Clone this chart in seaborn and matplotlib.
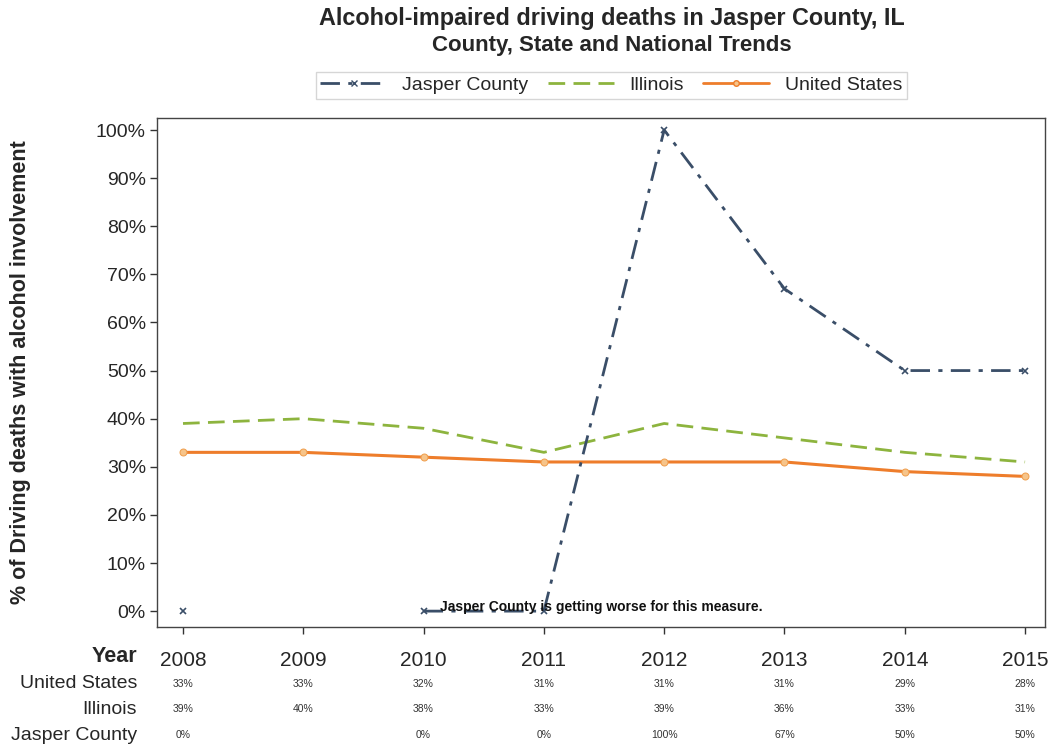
import numpy as np
import pandas as pd
import matplotlib
matplotlib.use("Agg")
import matplotlib.pyplot as plt
import seaborn as sns
from matplotlib.lines import Line2D
from matplotlib.ticker import FuncFormatter

sns.set_theme(style="white")
plt.rcParams["font.family"] = ["Liberation Sans", "DejaVu Sans"]

years = [2008, 2009, 2010, 2011, 2012, 2013, 2014, 2015]
us_pct = [33, 33, 32, 31, 31, 31, 29, 28]
il_pct = [39, 40, 38, 33, 39, 36, 33, 31]
jasper_pct = [0, np.nan, 0, 0, 100, 67, 50, 50]

series_names = ["Jasper County", "Illinois", "United States"]
colors = {"Jasper County": "#3a4e68", "Illinois": "#8db43e", "United States": "#ee7d2b"}
jc_dash = [7, 3, 1.5, 3]
il_dash = [6, 3]

fig = plt.figure(figsize=(10.56, 7.5), dpi=100)
ax = fig.add_axes([0.1487, 0.164, 0.8409, 0.6787])

# United States: solid line with circle markers
us_df = pd.DataFrame({"year": years, "pct": us_pct})
sns.lineplot(data=us_df, x="year", y="pct", ax=ax, color=colors["United States"],
             lw=2.2, marker="o", markersize=5, markerfacecolor="#f6c48a",
             markeredgecolor="#f0a050", zorder=3)

# Illinois: dashed line
il_df = pd.DataFrame({"year": years, "pct": il_pct})
sns.lineplot(data=il_df, x="year", y="pct", ax=ax, color=colors["Illinois"],
             lw=2.0, zorder=2)
ax.lines[-1].set_dashes(il_dash)

# Jasper County: dash-dot line, broken where a year has no value
jc_df = pd.DataFrame({"year": years, "pct": jasper_pct})
jc_df["segment"] = jc_df["pct"].isna().cumsum()
jc_df = jc_df.dropna()
for _, seg in jc_df.groupby("segment"):
    sns.lineplot(data=seg, x="year", y="pct", ax=ax, color=colors["Jasper County"],
                 lw=2.0, marker="x", markersize=5, markeredgewidth=1.2,
                 markeredgecolor=colors["Jasper County"], zorder=4)
    ax.lines[-1].set_dashes(jc_dash)

ax.set_xlim(2007.784, 2015.166)
ax.set_ylim(-3.3, 102.5)
ax.set_yticks(range(0, 101, 10))
ax.yaxis.set_major_formatter(FuncFormatter(lambda v, p: f"{int(v)}%"))
ax.tick_params(axis="y", labelsize=14, length=5, width=1, left=True, pad=3,
               color="#333333")
ax.set_xticks(years)
ax.set_xticklabels([str(y) for y in years], fontsize=15)
ax.tick_params(axis="x", length=5, width=1, bottom=True, pad=12, color="#333333")
for s in ax.spines.values():
    s.set_color("#444444")
    s.set_linewidth(1.0)
ax.set_xlabel("")
ax.set_ylabel("% of Driving deaths with alcohol involvement", fontsize=15.5,
              fontweight="bold")
ax.yaxis.set_label_coords(-0.142, 0.5)

ax.text(0.319, 0.039, "Jasper County is getting worse for this measure.",
        transform=ax.transAxes, fontsize=10, fontweight="bold", ha="left",
        va="center", color="#111111", zorder=5)

fig.text(0.579, 0.975, "Alcohol-impaired driving deaths in Jasper County, IL",
         ha="center", va="center", fontsize=16.8, fontweight="bold")
fig.text(0.579, 0.939, "County, State and National Trends",
         ha="center", va="center", fontsize=16, fontweight="bold")

handles = [
    Line2D([], [], color=colors["Jasper County"], lw=2, marker="x", markersize=4,
           dashes=jc_dash),
    Line2D([], [], color=colors["Illinois"], lw=2, dashes=il_dash),
    Line2D([], [], color=colors["United States"], lw=2, marker="o", markersize=4,
           markerfacecolor="#f6c48a"),
]
fig.legend(handles, series_names, loc="center", bbox_to_anchor=(0.579, 0.886),
           ncol=3, frameon=True, fontsize=14, handlelength=3.4, columnspacing=1.0,
           handletextpad=0.8, edgecolor="#cccccc", fancybox=False, borderpad=0.25)

# Data table beneath the axis
fig.text(137 / 1056, 1 - 657 / 750, "Year", ha="right", va="center",
         fontsize=15.5, fontweight="bold")
table_rows = [("United States", us_pct, 684), ("Illinois", il_pct, 709),
              ("Jasper County", jasper_pct, 735)]
trans = matplotlib.transforms.blended_transform_factory(ax.transData, fig.transFigure)
for label, vals, ypx in table_rows:
    yf = 1 - ypx / 750
    fig.text(137 / 1056, yf, label, ha="right", va="center", fontsize=14)
    for yr, v in zip(years, vals):
        if np.isnan(v):
            continue
        ax.text(yr, yf, f"{int(v)}%", transform=trans, ha="center", va="center",
                fontsize=7.5, color="#333333")

fig.savefig("out.png", dpi=100)
